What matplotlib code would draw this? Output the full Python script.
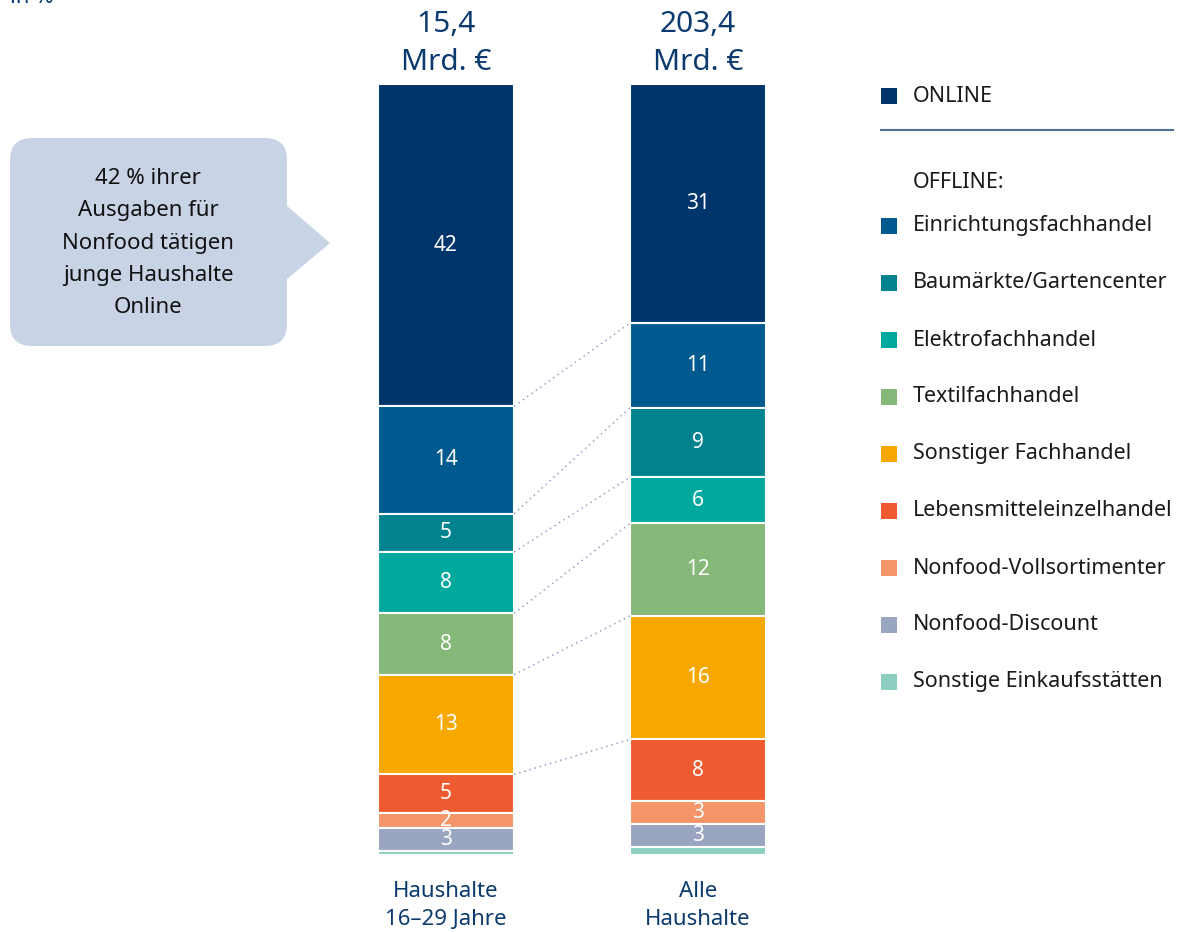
import numpy as np
import matplotlib
matplotlib.use("Agg")
import matplotlib.pyplot as plt
from matplotlib.patches import FancyBboxPatch, Polygon, Rectangle

plt.rcParams['font.family'] = ['Noto Sans', 'DejaVu Sans']

# data
categories = ["ONLINE", "Einrichtungsfachhandel", "Baumärkte/Gartencenter",
              "Elektrofachhandel", "Textilfachhandel", "Sonstiger Fachhandel",
              "Lebensmitteleinzelhandel", "Nonfood-Vollsortimenter",
              "Nonfood-Discount", "Sonstige Einkaufsstätten"]
colors = ["#00356b", "#005a90", "#00838f", "#00a99d", "#86b879",
          "#f6a800", "#ee5b30", "#f4956a", "#9aa5c2", "#8dcfc0"]
groups = ["Haushalte\n16–29 Jahre", "Alle\nHaushalte"]
totals = ["15,4\nMrd. €", "203,4\nMrd. €"]
young = [42, 14, 5, 8, 8, 13, 5, 2, 3, 0.5]
all_hh = [31, 11, 9, 6, 12, 16, 8, 3, 3, 1]
series = [young, all_hh]

W, H = 1179, 932
navy = "#0b3a6e"
fig = plt.figure(figsize=(W / 100, H / 100), dpi=100)

# bar axes: bar centres at 446 px and 698 px, bars from y=84 to y=855
ax = fig.add_axes([320 / W, (H - 855) / H, 504 / W, (855 - 84) / H])
ax.set_xlim(-0.5, 1.5)
ax.set_ylim(0, 100)
ax.axis("off")

bw = 0.54
tops_all = []
for i, vals in enumerate(series):
    shares = np.array(vals, dtype=float) / sum(vals) * 100
    tops = 100 - np.concatenate([[0], np.cumsum(shares)[:-1]])
    tops_all.append(tops)
    ax.bar(i, -shares, bottom=tops, width=bw, color=colors,
           edgecolor="white", linewidth=1.5)
    for v, t, s in zip(vals, tops, shares):
        if v >= 1.5:
            ax.text(i, t - s / 2, f"{v:g}", ha="center", va="center",
                    color="white", fontsize=15)
    ax.annotate(totals[i], (i, 100), xytext=(0, 5), textcoords="offset points",
                ha="center", va="bottom", fontsize=21.5, color=navy,
                fontweight="medium", linespacing=1.4)
    ax.annotate(groups[i], (i, 0), xytext=(0, -19), textcoords="offset points",
                ha="center", va="top", fontsize=16, color=navy,
                linespacing=1.4)

# dotted connectors between matching segment boundaries
for k in range(1, 7):
    ax.plot([bw / 2, 1 - bw / 2], [tops_all[0][k], tops_all[1][k]],
            linestyle=(0, (1, 2.5)), color="#9a9fc8", linewidth=1.1)

# overlay in pixel coordinates
ov = fig.add_axes([0, 0, 1, 1], facecolor="none")
ov.set_xlim(0, W)
ov.set_ylim(H, 0)
ov.axis("off")

ov.text(10, 3, "in %", fontsize=16, color=navy, va="baseline")

# speech bubble
bub = "#c8d4e6"
ov.add_patch(FancyBboxPatch((10, 138), 277, 208,
                            boxstyle="round,pad=0,rounding_size=22",
                            facecolor=bub, edgecolor="none"))
ov.add_patch(Polygon([[286, 205], [330, 243], [286, 280]], closed=True,
                     facecolor=bub, edgecolor="none"))
ov.text(148, 243, "42 % ihrer\nAusgaben für\nNonfood tätigen\njunge Haushalte\nOnline",
        ha="center", va="center", fontsize=16, color="#111111",
        linespacing=1.7)

# legend
txt = "#1a1a1a"
ov.add_patch(Rectangle((881, 88), 16, 16, facecolor=colors[0], edgecolor="none"))
ov.text(913, 96, "ONLINE", va="center", fontsize=15.5, color=txt)
ov.plot([881, 1173], [130, 130], color="#4f6f96", linewidth=1.5)
ov.text(913, 182, "OFFLINE:", va="center", fontsize=15.5, color=txt)
for j, (name, col) in enumerate(zip(categories[1:], colors[1:])):
    y = 226 + j * 57
    ov.add_patch(Rectangle((881, y - 8), 16, 16, facecolor=col, edgecolor="none"))
    ov.text(913, y, name, va="center", fontsize=15.5, color=txt)

fig.savefig("out.png", dpi=100)
